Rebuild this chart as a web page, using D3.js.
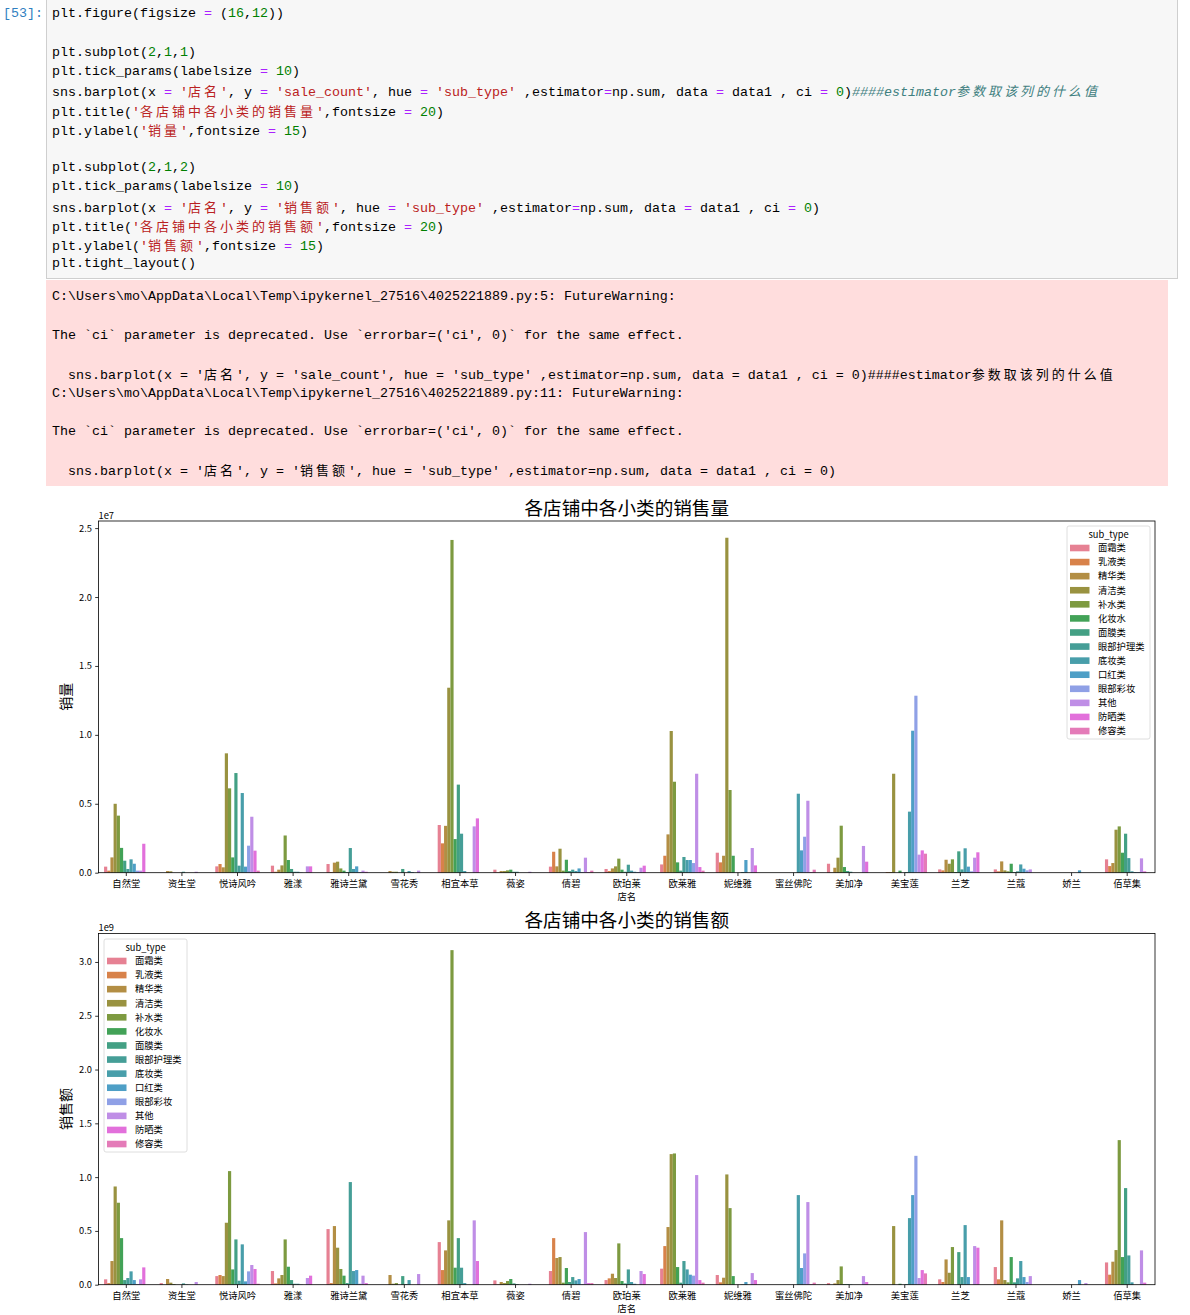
<!DOCTYPE html>
<html>
<head>
<meta charset="utf-8">
<script src="https://cdnjs.cloudflare.com/ajax/libs/d3/7.8.5/d3.min.js"></script>
<style>
  body { margin: 0; background: #fff; width: 1190px; height: 1315px; position: relative; overflow: hidden; }
  .line { position: absolute; font-family: "Liberation Mono", "DejaVu Sans Mono", monospace; font-size: 13.33px;
          white-space: pre; line-height: 19.23px; height: 19.23px; color: #000; }
  .cjk { font-family: "Noto Sans CJK SC", sans-serif; font-size: 13px; letter-spacing: 3px; }
  .op { color: #aa22ff; }
  .num { color: #008000; }
  .str { color: #ba2121; }
  .com { color: #408080; font-style: italic; }
  #codebox { position: absolute; left: 46px; top: -1px; width: 1130px; height: 278px; background: #f7f7f7; border: 1px solid #cfcfcf; }
  #warnbox { position: absolute; left: 46px; top: 280px; width: 1122px; height: 206px; background: #fdd; }
  svg { position: absolute; left: 0; top: 0; }
</style>
</head>
<body>
<div id="codebox"></div>
<div id="warnbox"></div>
<svg id="fig" width="1190" height="1315"></svg>
<script>
// ---- notebook text ----
var codeLines = [
  "plt.figure(figsize = (16,12))",
  "",
  "plt.subplot(2,1,1)",
  "plt.tick_params(labelsize = 10)",
  "sns.barplot(x = '店名', y = 'sale_count', hue = 'sub_type' ,estimator=np.sum, data = data1 , ci = 0)####estimator参数取该列的什么值",
  "plt.title('各店铺中各小类的销售量',fontsize = 20)",
  "plt.ylabel('销量',fontsize = 15)",
  "",
  "plt.subplot(2,1,2)",
  "plt.tick_params(labelsize = 10)",
  "sns.barplot(x = '店名', y = '销售额', hue = 'sub_type' ,estimator=np.sum, data = data1 , ci = 0)",
  "plt.title('各店铺中各小类的销售额',fontsize = 20)",
  "plt.ylabel('销售额',fontsize = 15)",
  "plt.tight_layout()"
];

var warnLines = [
  "C:\\Users\\mo\\AppData\\Local\\Temp\\ipykernel_27516\\4025221889.py:5: FutureWarning:",
  "",
  "The `ci` parameter is deprecated. Use `errorbar=('ci', 0)` for the same effect.",
  "",
  "  sns.barplot(x = '店名', y = 'sale_count', hue = 'sub_type' ,estimator=np.sum, data = data1 , ci = 0)####estimator参数取该列的什么值",
  "C:\\Users\\mo\\AppData\\Local\\Temp\\ipykernel_27516\\4025221889.py:11: FutureWarning:",
  "",
  "The `ci` parameter is deprecated. Use `errorbar=('ci', 0)` for the same effect.",
  "",
  "  sns.barplot(x = '店名', y = '销售额', hue = 'sub_type' ,estimator=np.sum, data = data1 , ci = 0)"
];

// ---- chart data ----
var stores = ["自然堂", "资生堂", "悦诗风吟", "雅漾", "雅诗兰黛", "雪花秀", "相宜本草", "薇姿", "倩碧", "欧珀莱",
              "欧莱雅", "妮维雅", "蜜丝佛陀", "美加净", "美宝莲", "兰芝", "兰蔻", "娇兰", "佰草集"];

var subTypes = ["面霜类", "乳液类", "精华类", "清洁类", "补水类", "化妆水", "面膜类", "眼部护理类",
                "底妆类", "口红类", "眼部彩妆", "其他", "防晒类", "修容类"];

// sale_count sums, unit 1e7, one row per store, columns in subTypes order
var saleCount = [
  [0.044, 0.015, 0.111, 0.500, 0.414, 0.180, 0.087, 0.027, 0.097, 0.065, 0.015, 0.015, 0.210, 0],
  [0, 0, 0.012, 0.010, 0, 0, 0, 0.007, 0, 0, 0, 0.007, 0, 0],
  [0.046, 0.063, 0.039, 0.866, 0.612, 0.111, 0.723, 0.051, 0.578, 0.044, 0.196, 0.406, 0.160, 0.015],
  [0.051, 0.007, 0.022, 0.053, 0.270, 0.092, 0.027, 0.007, 0.007, 0.002, 0, 0.046, 0.046, 0],
  [0.063, 0.005, 0.073, 0.080, 0.031, 0.015, 0.005, 0.179, 0.027, 0.046, 0.005, 0.015, 0.007, 0],
  [0, 0, 0.012, 0.007, 0.007, 0, 0.027, 0, 0.012, 0.005, 0, 0.015, 0, 0],
  [0.346, 0.213, 0.340, 1.342, 2.414, 0.244, 0.639, 0.283, 0.012, 0, 0, 0.336, 0.394, 0],
  [0.022, 0.003, 0.012, 0.012, 0.017, 0.022, 0.007, 0.007, 0, 0, 0, 0.007, 0, 0],
  [0.044, 0.152, 0.046, 0.174, 0.015, 0.094, 0.012, 0.022, 0.012, 0.031, 0.005, 0.109, 0.005, 0.015],
  [0.027, 0.012, 0.031, 0.046, 0.102, 0.022, 0.007, 0.058, 0.015, 0.007, 0.005, 0.036, 0.051, 0],
  [0.060, 0.123, 0.278, 1.028, 0.660, 0.075, 0.015, 0.114, 0.092, 0.092, 0.070, 0.718, 0.041, 0.015],
  [0.145, 0.075, 0.123, 2.430, 0.600, 0.123, 0, 0, 0.005, 0.092, 0, 0.179, 0.053, 0],
  [0, 0, 0, 0, 0, 0, 0, 0, 0.573, 0.162, 0.261, 0.522, 0.005, 0.022],
  [0.065, 0.002, 0.036, 0.109, 0.341, 0.041, 0.012, 0.007, 0, 0, 0, 0.194, 0.080, 0],
  [0, 0.005, 0.005, 0.718, 0, 0.015, 0, 0.005, 0.443, 1.030, 1.284, 0.131, 0.162, 0.138],
  [0.024, 0.017, 0.094, 0.065, 0.097, 0.005, 0.155, 0.024, 0.177, 0.044, 0.010, 0.109, 0.148, 0],
  [0.024, 0.010, 0.082, 0.017, 0.010, 0.065, 0.005, 0.010, 0.060, 0.029, 0.017, 0.024, 0, 0],
  [0, 0, 0, 0, 0, 0, 0, 0, 0, 0.017, 0, 0, 0, 0],
  [0.097, 0.048, 0.070, 0.312, 0.336, 0.145, 0.283, 0.106, 0.010, 0.005, 0.005, 0.104, 0.010, 0]
];

// 销售额 sums, unit 1e9
var salesAmount = [
  [0.050, 0.015, 0.220, 0.913, 0.762, 0.433, 0.043, 0.062, 0.124, 0.043, 0.006, 0.050, 0.161, 0],
  [0.015, 0, 0.053, 0.019, 0.006, 0, 0, 0.012, 0.003, 0, 0, 0.025, 0, 0],
  [0.080, 0.090, 0.080, 0.576, 1.056, 0.142, 0.421, 0.037, 0.375, 0.031, 0.124, 0.183, 0.146, 0.009],
  [0.127, 0.012, 0.059, 0.090, 0.421, 0.167, 0.043, 0.009, 0.009, 0.003, 0, 0.062, 0.084, 0],
  [0.517, 0.015, 0.545, 0.344, 0.146, 0.084, 0.015, 0.954, 0.127, 0.136, 0.009, 0.084, 0.015, 0],
  [0, 0, 0.090, 0.009, 0.015, 0, 0.080, 0.006, 0.043, 0, 0, 0.099, 0, 0],
  [0.396, 0.136, 0.319, 0.598, 3.110, 0.158, 0.433, 0.158, 0.015, 0, 0, 0.598, 0.220, 0],
  [0.040, 0.003, 0.025, 0.015, 0.034, 0.053, 0.012, 0.006, 0, 0, 0, 0.009, 0, 0],
  [0.127, 0.433, 0.248, 0.257, 0.019, 0.155, 0.025, 0.071, 0.040, 0.053, 0.006, 0.489, 0.015, 0.015],
  [0.043, 0.059, 0.102, 0.062, 0.384, 0.034, 0.012, 0.142, 0.025, 0.009, 0, 0.127, 0.099, 0],
  [0.149, 0.359, 0.536, 1.214, 1.220, 0.164, 0.019, 0.220, 0.142, 0.093, 0.084, 1.019, 0.043, 0.019],
  [0.090, 0.022, 0.065, 1.025, 0.712, 0.080, 0, 0, 0.003, 0.025, 0, 0.108, 0.043, 0],
  [0, 0, 0, 0, 0, 0, 0, 0, 0.833, 0.155, 0.291, 0.768, 0.006, 0.019],
  [0.015, 0, 0.012, 0.043, 0.170, 0.006, 0.006, 0.003, 0, 0, 0, 0.080, 0.025, 0],
  [0, 0, 0, 0.545, 0, 0.009, 0, 0.006, 0.619, 0.833, 1.198, 0.062, 0.136, 0.105],
  [0.050, 0.025, 0.235, 0.111, 0.350, 0, 0.303, 0.071, 0.554, 0.071, 0, 0.359, 0.344, 0],
  [0.164, 0.050, 0.598, 0.043, 0.022, 0.257, 0.022, 0.059, 0.220, 0.071, 0.025, 0.080, 0, 0],
  [0, 0, 0, 0, 0, 0, 0, 0, 0, 0.043, 0, 0.015, 0, 0],
  [0.207, 0.093, 0.214, 0.322, 1.344, 0.257, 0.898, 0.272, 0.022, 0, 0, 0.319, 0.019, 0]
];

var countTicks = [0, 0.5, 1.0, 1.5, 2.0, 2.5];
var amountTicks = [0, 0.5, 1.0, 1.5, 2.0, 2.5, 3.0];

// ---- notebook cells ----
function writeLine(parent, text, left, yc, highlight) {
  var div = d3.select(parent).append("div")
    .attr("class", "line")
    .style("left", left + "px")
    .style("top", (yc - 9.6) + "px");
  var tokens = [];
  if (highlight) {
    var re = /('[^']*')|(#.*$)|(=)|(\b\d+\b)/g, last = 0, m;
    while ((m = re.exec(text)) !== null) {
      if (m.index > last) tokens.push([text.slice(last, m.index), ""]);
      tokens.push([m[0], m[1] ? "str" : m[2] ? "com" : m[3] ? "op" : "num"]);
      last = m.index + m[0].length;
    }
    tokens.push([text.slice(last), ""]);
  } else {
    tokens.push([text, ""]);
  }
  tokens.forEach(function (t) {
    var span = div.append("span").attr("class", t[1]);
    // CJK runs are full-width (2 cells)
    t[0].split(/([\u3000-\u9fff\uff00-\uffef]+)/).forEach(function (part, i) {
      if (!part) return;
      span.append("span").attr("class", i % 2 ? "cjk" : null).text(part);
    });
  });
}

d3.select("body").append("div")
  .attr("class", "line")
  .style("left", "3px").style("top", (14 - 9.6) + "px")
  .style("color", "#307fc1")
  .text("[53]:");

codeLines.forEach(function (l, i) { writeLine("body", l, 52, 14 + i * 19.23, true); });
warnLines.forEach(function (l, i) { writeLine("body", l, 52, 297 + i * 19.23, false); });

// ---- seaborn husl palette (14 colours), desaturated 0.75 as barplot does ----
function huslToRgb(H, S, L) {
  var m = [[3.2406, -1.5372, -0.4986], [-0.9689, 1.8758, 0.0415], [0.0557, -0.2040, 1.0570]];
  var hrad = H / 180 * Math.PI, sinH = Math.sin(hrad), cosH = Math.cos(hrad);
  var sub1 = Math.pow(L + 16, 3) / 1560896;
  var sub2 = sub1 > 0.008856 ? sub1 : L / 903.3;
  var maxC = Infinity;
  m.forEach(function (row) {
    var top = (0.99915 * row[0] + 1.05122 * row[1] + 1.14460 * row[2]) * sub2;
    var rbottom = 0.86330 * row[2] - 0.17266 * row[1];
    var lbottom = 0.12949 * row[2] - 0.38848 * row[0];
    var bottom = (rbottom * sinH + lbottom * cosH) * sub2;
    [0, 1].forEach(function (t) {
      var C = L * (top - 1.05122 * t) / (bottom + 0.17266 * sinH * t);
      if (C > 0 && C < maxC) maxC = C;
    });
  });
  var C = maxC / 100 * S;
  var U = cosH * C, V = sinH * C;
  var Y = Math.pow((L + 16) / 116, 3);
  if (Y <= 0.008856) Y = L / 903.3;
  var varU = U / (13 * L) + 0.19784, varV = V / (13 * L) + 0.46834;
  var X = -(9 * Y * varU) / ((varU - 4) * varV - varU * varV);
  var Z = (9 * Y - 15 * varV * Y - varV * X) / (3 * varV);
  return m.map(function (row) {
    var c = row[0] * X + row[1] * Y + row[2] * Z;
    c = c <= 0.0031308 ? 12.92 * c : 1.055 * Math.pow(c, 1 / 2.4) - 0.055;
    return Math.max(0, Math.min(1, c));
  });
}

var palette = subTypes.map(function (d, i) {
  var h = ((i / subTypes.length + 0.01) % 1) * 359;
  var rgb = huslToRgb(h, 0.9 * 99, 0.65 * 99);
  var c = d3.hsl(d3.rgb(rgb[0] * 255, rgb[1] * 255, rgb[2] * 255));
  c.s *= 0.75;
  return c.formatHex();
});
var color = d3.scaleOrdinal().domain(subTypes).range(palette);

// ---- figure ----
var svg = d3.select("#fig");
var font = "'Noto Sans CJK SC', 'DejaVu Sans', sans-serif";
var left = 98.5, right = 1155;

var x = d3.scaleBand().domain(stores).range([left, right]).paddingInner(0.2).paddingOuter(0.1);
var x1 = d3.scaleBand().domain(subTypes).range([0, x.bandwidth()]);

function drawPanel(cfg) {
  var rows = cfg.rows;
  var ymax = d3.max(rows, function (r) { return d3.max(r); }) * 1.05;
  var y = d3.scaleLinear().domain([0, ymax]).range([cfg.bottom, cfg.top]);
  var g = svg.append("g").style("font-family", font);

  // bars
  var groups = g.selectAll(".store")
    .data(rows)
    .enter().append("g")
    .attr("transform", function (d, i) { return "translate(" + x(stores[i]) + ",0)"; });
  groups.selectAll("rect")
    .data(function (d) { return d.map(function (v, j) { return { k: subTypes[j], v: v }; }).filter(function (e) { return e.v > 0; }); })
    .enter().append("rect")
    .attr("x", function (d) { return x1(d.k); })
    .attr("width", x1.bandwidth())
    .attr("y", function (d) { return y(d.v); })
    .attr("height", function (d) { return y(0) - y(d.v); })
    .attr("fill", function (d) { return color(d.k); });

  // axes
  var ya = g.append("g")
    .attr("transform", "translate(" + left + ",0)")
    .call(d3.axisLeft(y).tickValues(cfg.ticks).tickFormat(d3.format(".1f")).tickSize(3.3).tickPadding(3.3));
  var xa = g.append("g")
    .attr("transform", "translate(0," + cfg.bottom + ")")
    .call(d3.axisBottom(x).tickSize(3.3).tickPadding(4.3));
  [ya, xa].forEach(function (a) {
    a.select(".domain").remove();
    a.selectAll("text").attr("font-size", 9.3).attr("fill", "#000").style("font-family", font);
    a.selectAll("line").attr("stroke", "#000").attr("stroke-width", 0.8);
  });

  // frame
  g.append("rect")
    .attr("x", left).attr("y", cfg.top)
    .attr("width", right - left).attr("height", cfg.bottom - cfg.top)
    .attr("fill", "none").attr("stroke", "#000").attr("stroke-width", 0.8);

  // texts
  g.append("text")
    .attr("x", (left + right) / 2).attr("y", cfg.top - 6)
    .attr("text-anchor", "middle").attr("font-size", 18.6)
    .text(cfg.title);
  g.append("text")
    .attr("x", left).attr("y", cfg.top - 2)
    .attr("font-size", 9.3)
    .text(cfg.offset);
  g.append("text")
    .attr("transform", "translate(66," + (cfg.top + cfg.bottom) / 2 + ") rotate(-90)")
    .attr("text-anchor", "middle").attr("dy", "0.35em").attr("font-size", 14)
    .text(cfg.ylabel);
  g.append("text")
    .attr("x", (left + right) / 2).attr("y", cfg.bottom + 24.5)
    .attr("text-anchor", "middle").attr("dy", "0.35em").attr("font-size", 9.3)
    .text("店名");

  // legend
  var L = cfg.legend;
  var lg = g.append("g").attr("transform", "translate(" + L.x + "," + L.y + ")");
  lg.append("rect")
    .attr("width", 83).attr("height", 213).attr("rx", 2)
    .attr("fill", "#fff").attr("fill-opacity", 0.8)
    .attr("stroke", "#d6d6d6").attr("stroke-width", 0.8);
  lg.append("text")
    .attr("x", 41.5).attr("y", 8.5).attr("dy", "0.35em")
    .attr("text-anchor", "middle").attr("font-size", 9.3)
    .text("sub_type");
  var item = lg.selectAll(".item")
    .data(subTypes)
    .enter().append("g")
    .attr("transform", function (d, i) { return "translate(0," + (22 + i * 14.08) + ")"; });
  item.append("rect")
    .attr("x", 3).attr("y", -3.3).attr("width", 19.5).attr("height", 6.6)
    .attr("fill", function (d) { return color(d); });
  item.append("text")
    .attr("x", 31).attr("dy", "0.35em").attr("font-size", 9.3)
    .text(function (d) { return d; });
}

drawPanel({ rows: saleCount, ticks: countTicks, top: 521, bottom: 872.7,
  title: "各店铺中各小类的销售量", ylabel: "销量", offset: "1e7", legend: { x: 1067, y: 526 } });
drawPanel({ rows: salesAmount, ticks: amountTicks, top: 933.4, bottom: 1284.7,
  title: "各店铺中各小类的销售额", ylabel: "销售额", offset: "1e9", legend: { x: 104, y: 939 } });
</script>
</body>
</html>
